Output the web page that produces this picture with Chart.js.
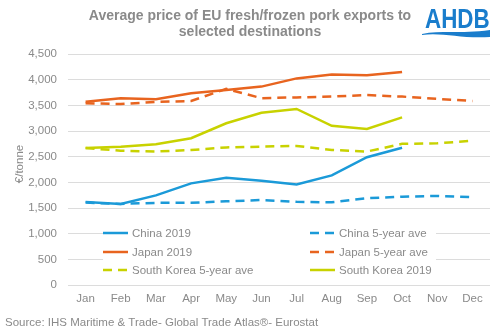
<!DOCTYPE html>
<html><head><meta charset="utf-8">
<script src="https://cdn.jsdelivr.net/npm/chart.js@4/dist/chart.umd.min.js"></script>
<style>html,body{margin:0;padding:0;background:#fff}#wrap{width:500px;height:332px}</style>
</head><body><div id="wrap"><canvas id="c" width="500" height="332"></canvas></div>
<script>
const months = ['Jan','Feb','Mar','Apr','May','Jun','Jul','Aug','Sep','Oct','Nov','Dec'];
const china2019 = [1615,1580,1745,1980,2090,2030,1960,2135,2490,2675,null,null];
const china5yr = [1605,1580,1600,1600,1630,1655,1620,1610,1690,1720,1735,1710];
const japan2019 = [3570,3640,3620,3735,3800,3865,4025,4100,4085,4150,null,null];
const japan5yr = [3540,3525,3565,3585,3820,3640,3655,3670,3700,3670,3625,3585];
const korea5yr = [2670,2615,2600,2630,2680,2695,2710,2630,2600,2750,2760,2810];
const korea2019 = [2670,2695,2740,2860,3150,3355,3430,3100,3040,3265,null,null];
const yTicks = [0,500,1000,1500,2000,2500,3000,3500,4000,4500];

const BLUE='#1b9ad8', ORANGE='#e8641f', GREEN='#c8d200', GREY='#8a8a8a';

const extras = {
  id:'extras',
  afterDraw(chart){
    const ctx = chart.ctx;
    ctx.save();
    // title
    ctx.fillStyle = GREY;
    ctx.font = 'bold 14px "Liberation Sans", Arial, sans-serif';
    ctx.textAlign='center'; ctx.textBaseline='middle';
    ctx.fillText('Average price of EU fresh/frozen pork exports to', 250, 16);
    ctx.fillText('selected destinations', 250, 32);
    // y title
    ctx.save();
    ctx.translate(20, 164);
    ctx.rotate(-Math.PI/2);
    ctx.font = '11.5px "Liberation Sans", Arial, sans-serif';
    ctx.fillText('€/tonne', 0, 0);
    ctx.restore();
    // source
    ctx.textAlign='left';
    ctx.font = '11.5px "Liberation Sans", Arial, sans-serif';
    ctx.fillText('Source: IHS Maritime & Trade- Global Trade Atlas®- Eurostat', 5, 323);
    // logo
    ctx.fillStyle = '#1a7dcc';
    ctx.save();
    ctx.translate(425, 28);
    ctx.scale(0.8, 1);
    ctx.textBaseline='alphabetic';
    ctx.font = 'bold 28px "Liberation Sans", Arial, sans-serif';
    ctx.fillText('AHDB', 0, 0);
    ctx.restore();
    ctx.beginPath();
    ctx.moveTo(422, 34);
    ctx.bezierCurveTo(440, 30, 460, 34, 490, 30);
    ctx.lineTo(490, 37);
    ctx.bezierCurveTo(462, 39, 442, 32, 422, 35);
    ctx.closePath();
    ctx.fill();
    // legend
    ctx.fillStyle = '#fff';
    ctx.fillRect(103, 225, 333, 54);
    const ds = chart.data.datasets;
    const cols = [103, 310];
    const rows = [233, 252, 270];
    ctx.font = '11.5px "Liberation Sans", Arial, sans-serif';
    ds.forEach((d,i)=>{
      const x = cols[i%2], y = rows[Math.floor(i/2)];
      ctx.strokeStyle = d.borderColor; ctx.lineWidth = 2.5;
      ctx.setLineDash(d.borderDash && d.borderDash.length ? [9,6] : []);
      ctx.beginPath(); ctx.moveTo(x, y); ctx.lineTo(x+25, y); ctx.stroke();
      ctx.setLineDash([]);
      ctx.fillStyle = GREY; ctx.textBaseline='middle';
      ctx.fillText(d.label, x+29, y+0.5);
    });
    ctx.restore();
  }
};

function ds(label, data, color, dashed){
  return {label, data, borderColor:color, backgroundColor:color, borderWidth:2.5,
    borderDash: dashed?[9,6]:[], pointRadius:0, tension:0, spanGaps:false, fill:false};
}

new Chart(document.getElementById('c'), {
  type:'line',
  data:{labels:months, datasets:[
    ds('China 2019', china2019, BLUE, false),
    ds('China 5-year ave', china5yr, BLUE, true),
    ds('Japan 2019', japan2019, ORANGE, false),
    ds('Japan 5-year ave', japan5yr, ORANGE, true),
    ds('South Korea 5-year ave', korea5yr, GREEN, true),
    ds('South Korea 2019', korea2019, GREEN, false)
  ]},
  options:{
    responsive:false, animation:false,
    layout:{padding:{left:0, right:10, top:54, bottom:22}},
    plugins:{legend:{display:false}, title:{display:false}, tooltip:{enabled:false}},
    scales:{
      x:{offset:true, grid:{display:false, drawTicks:false}, border:{display:false},
        ticks:{color:GREY, font:{family:'"Liberation Sans", Arial, sans-serif', size:11.5}, padding:7, maxRotation:0},
        afterFit(s){ s.height = 25; }},
      y:{min:0, max:4500, grid:{color:'#dcdcdc', lineWidth:1, drawTicks:false}, border:{display:false},
        afterBuildTicks(s){ s.ticks = yTicks.map(v=>({value:v})); },
        ticks:{color:GREY, font:{family:'"Liberation Sans", Arial, sans-serif', size:11.5}, padding:11,
          callback:v=>v.toLocaleString('en-US')},
        afterFit(s){ s.width = 68; }}
    }
  },
  plugins:[extras]
});
</script></body></html>
